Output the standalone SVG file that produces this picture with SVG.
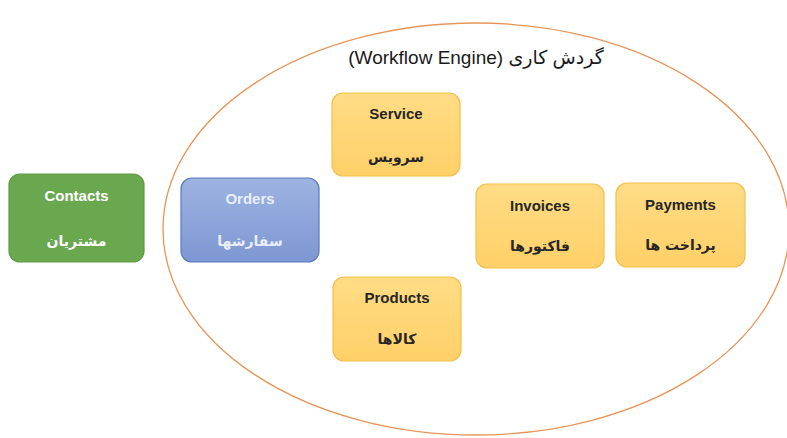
<svg xmlns="http://www.w3.org/2000/svg" width="787" height="438" viewBox="0 0 787 438">
<defs>
<linearGradient id="gOr" x1="0" y1="0" x2="0" y2="1"><stop offset="0" stop-color="#FFDC85"/><stop offset="1" stop-color="#FFD068"/></linearGradient>
<linearGradient id="gBl" x1="0" y1="0" x2="0" y2="1"><stop offset="0" stop-color="#9DB3E0"/><stop offset="1" stop-color="#7D97D3"/></linearGradient>
<style>
.en{font-family:"Liberation Sans","DejaVu Sans",sans-serif;font-weight:bold;font-size:15px;text-anchor:middle}
.fa{font-family:"DejaVu Sans","Noto Sans",sans-serif;font-weight:bold;font-size:14px;text-anchor:middle;direction:rtl}
.or{fill:url(#gOr);stroke:#F2C04A;stroke-width:1.2}
.dk{fill:#262626}
</style>
</defs>
<rect width="787" height="438" fill="#ffffff"/>
<g id="workflow-engine">
<ellipse cx="476" cy="229" rx="313" ry="206" fill="none" stroke="#E8955A" stroke-width="1.3"/>
<text x="476" y="64" font-family="'Liberation Sans','DejaVu Sans',sans-serif" font-size="19" fill="#1a1a1a" text-anchor="middle" direction="rtl">گردش کاری (Workflow Engine)</text>
</g>
<g id="contacts">
<rect x="9" y="174" width="135" height="88" rx="11" fill="#6AA84F" stroke="#5E9A44" stroke-width="1.2"/>
<text class="en" x="76.500" y="201" fill="#ffffff">Contacts</text>
<text class="fa" x="76.500" y="246" fill="#ffffff">مشتریان</text>
</g>
<g id="orders">
<rect x="181" y="178" width="138" height="84" rx="11" fill="url(#gBl)" stroke="#5A78BE" stroke-width="1.2"/>
<text class="en" x="250" y="204" fill="#E8EEFA">Orders</text>
<text class="fa" x="250" y="246" fill="#E8EEFA">سفارشها</text>
</g>
<g id="service">
<rect class="or" x="332" y="93" width="128" height="83" rx="11"/>
<text class="en dk" x="396" y="119">Service</text>
<text class="fa dk" x="396" y="162">سرویس</text>
</g>
<g id="invoices">
<rect class="or" x="476" y="184" width="128" height="84" rx="11"/>
<text class="en dk" x="540" y="211">Invoices</text>
<text class="fa dk" x="540" y="251">فاکتورها</text>
</g>
<g id="payments">
<rect class="or" x="616" y="183" width="129" height="84" rx="11"/>
<text class="en dk" x="680.500" y="210">Payments</text>
<text class="fa dk" x="680.500" y="250">پرداخت ها</text>
</g>
<g id="products">
<rect class="or" x="333" y="277" width="128" height="84" rx="11"/>
<text class="en dk" x="397" y="303">Products</text>
<text class="fa dk" x="397" y="344">کالاها</text>
</g>
<g id="connectors"></g>
</svg>
